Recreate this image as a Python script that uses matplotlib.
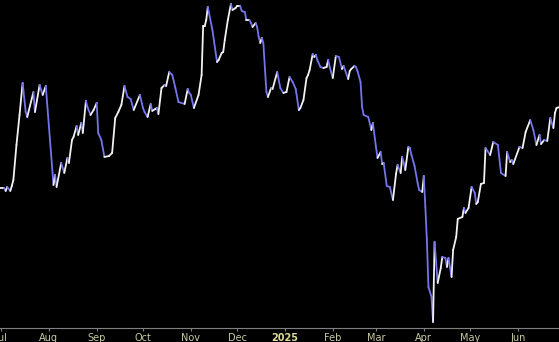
import numpy as np
import pandas as pd
import matplotlib
matplotlib.use("Agg")
import matplotlib.pyplot as plt
import matplotlib.dates as mdates
from matplotlib.collections import LineCollection

# price series (daily closes)
dates = [
    "2024-06-28", "2024-07-03", "2024-07-04", "2024-07-05", "2024-07-07", "2024-07-08", "2024-07-09",
    "2024-07-11", "2024-07-13", "2024-07-15", "2024-07-17", "2024-07-18", "2024-07-22", "2024-07-23",
    "2024-07-26", "2024-07-28", "2024-07-30", "2024-08-04", "2024-08-05", "2024-08-06", "2024-08-09",
    "2024-08-11", "2024-08-13", "2024-08-14", "2024-08-16", "2024-08-17", "2024-08-19", "2024-08-20",
    "2024-08-22", "2024-08-23", "2024-08-25", "2024-08-26", "2024-08-28", "2024-08-30", "2024-09-01",
    "2024-09-02", "2024-09-04", "2024-09-06", "2024-09-09", "2024-09-11", "2024-09-13", "2024-09-15",
    "2024-09-17", "2024-09-19", "2024-09-21", "2024-09-23", "2024-09-25", "2024-09-29", "2024-10-01",
    "2024-10-02", "2024-10-04", "2024-10-06", "2024-10-07", "2024-10-09", "2024-10-10", "2024-10-11",
    "2024-10-13", "2024-10-15", "2024-10-16", "2024-10-18", "2024-10-20", "2024-10-22", "2024-10-24",
    "2024-10-28", "2024-10-30", "2024-10-31", "2024-11-01", "2024-11-03", "2024-11-06", "2024-11-08",
    "2024-11-09", "2024-11-10", "2024-11-11", "2024-11-12", "2024-11-15", "2024-11-18", "2024-11-19",
    "2024-11-21", "2024-11-22", "2024-11-23", "2024-11-25", "2024-11-27", "2024-11-28", "2024-11-30",
    "2024-12-01", "2024-12-03", "2024-12-04", "2024-12-06", "2024-12-07", "2024-12-09", "2024-12-10",
    "2024-12-11", "2024-12-13", "2024-12-14", "2024-12-15", "2024-12-16", "2024-12-17", "2024-12-18",
    "2024-12-20", "2024-12-21", "2024-12-23", "2024-12-24", "2024-12-27", "2024-12-29", "2024-12-31",
    "2025-01-02", "2025-01-04", "2025-01-06", "2025-01-08", "2025-01-10", "2025-01-11", "2025-01-13",
    "2025-01-15", "2025-01-16", "2025-01-17", "2025-01-19", "2025-01-20", "2025-01-21", "2025-01-22",
    "2025-01-24", "2025-01-26", "2025-01-28", "2025-01-29", "2025-01-30", "2025-02-01", "2025-02-03",
    "2025-02-05", "2025-02-07", "2025-02-08", "2025-02-11", "2025-02-12", "2025-02-13", "2025-02-15",
    "2025-02-16", "2025-02-17", "2025-02-19", "2025-02-20", "2025-02-21", "2025-02-24", "2025-02-26",
    "2025-02-27", "2025-03-01", "2025-03-02", "2025-03-04", "2025-03-05", "2025-03-06", "2025-03-08",
    "2025-03-10", "2025-03-12", "2025-03-14", "2025-03-15", "2025-03-17", "2025-03-18", "2025-03-19",
    "2025-03-20", "2025-03-22", "2025-03-23", "2025-03-24", "2025-03-26", "2025-03-28", "2025-03-29",
    "2025-03-31", "2025-04-01", "2025-04-02", "2025-04-03", "2025-04-04", "2025-04-06", "2025-04-07",
    "2025-04-08", "2025-04-10", "2025-04-12", "2025-04-13", "2025-04-15", "2025-04-16", "2025-04-17",
    "2025-04-19", "2025-04-20", "2025-04-22", "2025-04-23", "2025-04-26", "2025-04-27", "2025-04-28",
    "2025-04-30", "2025-05-02", "2025-05-04", "2025-05-05", "2025-05-06", "2025-05-08", "2025-05-10",
    "2025-05-11", "2025-05-14", "2025-05-16", "2025-05-19", "2025-05-21", "2025-05-24", "2025-05-25",
    "2025-05-27", "2025-05-28", "2025-05-29", "2025-06-02", "2025-06-04", "2025-06-06", "2025-06-09",
    "2025-06-11", "2025-06-13", "2025-06-15", "2025-06-16", "2025-06-18", "2025-06-20", "2025-06-22",
    "2025-06-24", "2025-06-25", "2025-06-26", "2025-06-28",
]
prices = [
    67.50, 67.50, 67.13, 67.63, 67.13, 67.75, 68.50,
    72.88, 76.63, 80.63, 77.00, 76.38, 79.50, 77.00,
    80.38, 79.13, 80.25, 67.88, 69.13, 67.63, 70.63,
    69.38, 71.25, 70.63, 73.50, 73.88, 75.25, 74.13,
    75.63, 74.38, 78.38, 77.63, 76.63, 77.25, 78.13,
    74.38, 73.50, 71.38, 71.50, 71.88, 76.25, 77.00,
    77.88, 80.25, 78.88, 78.63, 77.25, 79.13, 77.50,
    77.00, 76.38, 78.00, 77.13, 77.38, 77.50, 76.75,
    80.00, 80.38, 80.25, 82.00, 81.63, 80.00, 78.25,
    78.00, 79.88, 79.38, 79.13, 77.50, 79.13, 81.63,
    87.75, 87.75, 88.50, 90.13, 87.25, 83.25, 83.50,
    84.38, 84.50, 86.00, 88.50, 90.50, 89.75, 90.00,
    90.25, 90.25, 89.63, 89.50, 88.50, 88.50, 88.13,
    87.63, 88.13, 87.63, 86.38, 85.63, 86.25, 85.63,
    79.50, 78.88, 80.00, 79.88, 82.00, 80.00, 79.38,
    79.50, 81.38, 80.75, 79.88, 77.25, 77.50, 78.50,
    81.25, 81.63, 82.25, 84.25, 83.88, 84.13, 83.50,
    82.63, 82.50, 82.63, 83.50, 82.63, 81.25, 84.00,
    83.88, 82.38, 82.75, 81.13, 82.13, 82.38, 82.75,
    82.63, 82.13, 80.75, 77.63, 76.63, 76.38, 74.75,
    75.63, 72.63, 71.25, 72.00, 70.50, 70.63, 67.75,
    67.63, 66.00, 69.25, 70.38, 69.38, 71.38, 70.63,
    69.75, 72.63, 72.50, 71.63, 70.25, 68.13, 67.25,
    67.00, 69.00, 65.13, 61.00, 55.13, 53.88, 50.75,
    60.75, 55.63, 57.50, 58.88, 58.75, 57.63, 58.75,
    56.38, 59.75, 61.38, 63.63, 63.88, 65.00, 64.38,
    65.00, 67.63, 66.88, 65.50, 65.75, 68.00, 68.13,
    72.50, 71.63, 73.25, 72.88, 69.38, 69.00, 72.00,
    70.75, 71.00, 70.50, 72.63, 72.50, 74.50, 76.00,
    74.75, 72.88, 74.13, 73.00, 73.50, 73.38, 76.25,
    75.00, 76.88, 77.50, 77.63,
]

up_color = "#f2f2f2"
down_color = "#7474ee"
label_color = "#c8c8a0"
year_color = "#dcdc96"

x = mdates.date2num(pd.to_datetime(dates))
y = np.array(prices)

fig = plt.figure(figsize=(5.59, 3.42), dpi=100, facecolor="black")
ax = fig.add_axes([0, 14 / 342, 1, 328 / 342])
ax.set_facecolor("black")

# colour each segment by direction: up = white, down = blue
pts = np.column_stack([x, y]).reshape(-1, 1, 2)
segs = np.concatenate([pts[:-1], pts[1:]], axis=1)
cols = [up_color if d >= 0 else down_color for d in np.diff(y)]
lc = LineCollection(segs, colors=cols, linewidths=1.3, capstyle="round", joinstyle="round")
ax.add_collection(lc)

ax.set_xlim(pd.Timestamp("2024-06-30 08:00"), pd.Timestamp("2025-06-27 15:00"))
ax.set_ylim(50, 91)

# month ticks, year shown at January
ax.xaxis.set_major_locator(mdates.MonthLocator())
ax.xaxis.set_major_formatter(
    plt.FuncFormatter(lambda v, p: mdates.num2date(v).strftime("%Y" if mdates.num2date(v).month == 1 else "%b"))
)
ax.tick_params(axis="x", colors="#808080", length=2, width=0.8, pad=1.5,
               labelsize=7, labelcolor=label_color)
ax.set_yticks([])
for lab in ax.get_xticklabels():
    if lab.get_text() == "2025":
        lab.set_fontweight("bold")
        lab.set_color(year_color)

for s in ["top", "left", "right"]:
    ax.spines[s].set_visible(False)
ax.spines["bottom"].set_color("#808080")
ax.spines["bottom"].set_linewidth(0.8)

fig.savefig("out.png", dpi=100, facecolor="black")
